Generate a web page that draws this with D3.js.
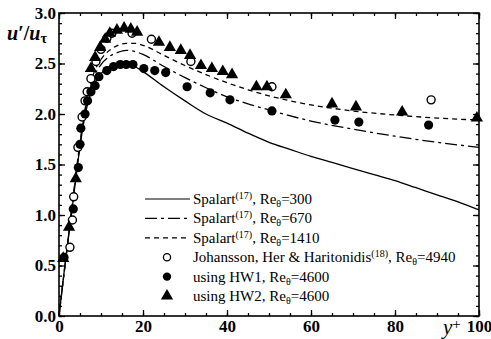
<!DOCTYPE html>
<html>
<head>
<meta charset="utf-8">
<script src="https://cdn.jsdelivr.net/npm/d3@7"></script>
<style>
  body { margin: 0; background: #fff; }
  svg { display: block; font-family: "Liberation Serif", "Times New Roman", "DejaVu Serif", serif; }
</style>
</head>
<body>
<div id="chart"></div>
<script>
// Spalart DNS profiles, [y+, u'/u_tau]
const spalart300 = [[0,0],[1,0.36],[2,0.7],[3,1.02],[4,1.36],[5,1.68],[6,1.94],[7,2.13],[8,2.26],[10,2.4],[12,2.47],[14,2.5],[16,2.5],[18,2.47],[20,2.42],[25,2.27],[30,2.13],[35,2.0],[40,1.91],[45,1.81],[50,1.72],[55,1.65],[60,1.58],[65,1.52],[70,1.46],[75,1.4],[80,1.34],[85,1.27],[90,1.2],[95,1.13],[100,1.05]]
const spalart670 = [[0,0],[2,0.7],[4,1.38],[6,1.98],[8,2.33],[10,2.49],[12,2.57],[14,2.61],[16,2.63],[18,2.62],[20,2.59],[25,2.47],[30,2.36],[35,2.26],[40,2.17],[45,2.1],[50,2.04],[60,1.93],[70,1.85],[80,1.78],[90,1.72],[100,1.67]]
const spalart1410 = [[0,0],[2,0.7],[4,1.4],[6,2.0],[8,2.37],[10,2.54],[12,2.63],[14,2.68],[16,2.7],[18,2.7],[20,2.68],[25,2.58],[30,2.48],[35,2.39],[40,2.31],[45,2.24],[50,2.18],[60,2.09],[70,2.03],[80,1.99],[90,1.96],[100,1.94]]

// measured points
const johansson = [[2.6,0.68],[3.2,0.95],[3.5,1.18],[4.5,1.67],[5.5,1.97],[6.2,2.13],[6.7,2.22],[7.6,2.35],[8.8,2.52],[10,2.64],[11.4,2.75],[12.6,2.8],[17.4,2.8],[22,2.74],[31.4,2.52],[50.7,2.27],[88.6,2.14]]
const hw1 = [[1.2,0.58],[3.4,1.06],[4.6,1.47],[5.0,1.7],[5.2,1.86],[6.2,2.0],[6.8,2.13],[7.6,2.22],[8.6,2.28],[9.5,2.37],[11.4,2.43],[13.0,2.47],[14.6,2.49],[16,2.49],[17.6,2.49],[20.2,2.45],[22.8,2.43],[25.4,2.41],[30.5,2.27],[36,2.21],[40.7,2.14],[50.7,2.03],[65.7,1.94],[71.4,1.92],[88,1.89]]
const hw2 = [[1.0,0.57],[2.4,0.88],[4.0,1.36],[7.6,2.45],[8.6,2.56],[9.8,2.66],[11,2.74],[12.1,2.8],[13.8,2.83],[15.5,2.85],[17.1,2.84],[18.6,2.81],[23.8,2.71],[26.4,2.66],[29,2.63],[31.2,2.58],[33.8,2.48],[36.4,2.45],[39,2.42],[41.2,2.39],[47,2.27],[49.5,2.27],[54,2.19],[65,2.1],[70.7,2.07],[81.7,2.02],[99.5,1.96]]

const xTicks = [0, 20, 40, 60, 80, 100]
const yTicks = [0, 0.5, 1.0, 1.5, 2.0, 2.5, 3.0]
const legendLabels = [
  { name: 'Spalart', ref: '(17)', re: '=300' },
  { name: 'Spalart', ref: '(17)', re: '=670' },
  { name: 'Spalart', ref: '(17)', re: '=1410' },
  { name: 'Johansson, Her & Haritonidis', ref: '(18)', re: '=4940' },
  { name: 'using HW1', ref: '', re: '=4600' },
  { name: 'using HW2', ref: '', re: '=4600' }
]

const W = 491, H = 339
const pLeft = 59, pRight = 479, pTop = 13, pBottom = 316
const serif = '"Liberation Serif", "Times New Roman", serif'

const svg = d3.select('#chart').append('svg')
  .attr('width', W).attr('height', H)
  .attr('font-family', serif)

const x = d3.scaleLinear().domain([0, 100]).range([pLeft, pRight])
const y = d3.scaleLinear().domain([0, 3]).range([pBottom, pTop])

// ticks, all pointing inward
const addAxis = (axis, transform) => {
  const g = svg.append('g').attr('transform', transform).call(axis)
  g.attr('font-family', serif)
  g.select('.domain').remove()
  g.selectAll('line').attr('stroke', '#000').attr('stroke-width', 1.3)
  return g
}

const xMinor = d3.range(0, 101, 5)
const yMinor = d3.range(0, 31).map(d => d / 10)

addAxis(d3.axisBottom(x).tickValues(xMinor).tickSize(-3).tickFormat(''), `translate(0,${pBottom})`)
addAxis(d3.axisTop(x).tickValues(xMinor).tickSize(-3).tickFormat(''), `translate(0,${pTop})`)
addAxis(d3.axisLeft(y).tickValues(yMinor).tickSize(-3).tickFormat(''), `translate(${pLeft},0)`)
addAxis(d3.axisRight(y).tickValues(yMinor).tickSize(-3).tickFormat(''), `translate(${pRight},0)`)

const xb = addAxis(d3.axisBottom(x).tickValues(xTicks).tickSize(-6).tickPadding(3)
  .tickFormat(d => d), `translate(0,${pBottom})`)
addAxis(d3.axisTop(x).tickValues(xTicks).tickSize(-6).tickFormat(''), `translate(0,${pTop})`)
const yl = addAxis(d3.axisLeft(y).tickValues(yTicks).tickSize(-6).tickPadding(3)
  .tickFormat(d3.format('.1f')), `translate(${pLeft},0)`)
addAxis(d3.axisRight(y).tickValues(yTicks).tickSize(-6).tickFormat(''), `translate(${pRight},0)`)

xb.selectAll('text').attr('y', 4).attr('font-size', 17).attr('font-weight', 'bold').attr('fill', '#000')
yl.selectAll('text').attr('x', -3).attr('font-size', 17).attr('font-weight', 'bold').attr('fill', '#000')

// frame
svg.append('rect')
  .attr('x', pLeft).attr('y', pTop)
  .attr('width', pRight - pLeft).attr('height', pBottom - pTop)
  .attr('fill', 'none').attr('stroke', '#000').attr('stroke-width', 1.6)

// axis titles
const yt = svg.append('text').attr('x', 7).attr('y', 40)
  .attr('font-size', 20).attr('font-weight', 'bold').attr('fill', '#000')
yt.append('tspan').attr('font-style', 'italic').text('u')
yt.append('tspan').text('′/')
yt.append('tspan').attr('font-style', 'italic').text('u')
yt.append('tspan').attr('font-size', 14).attr('dy', 3).text('τ')

const xt = svg.append('text').attr('x', 443).attr('y', 334)
  .attr('font-size', 21).attr('fill', '#000')
xt.append('tspan').attr('font-style', 'italic').text('y')
xt.append('tspan').attr('font-size', 15).attr('dy', -5).text('+')

// lines
const line = d3.line()
  .x(d => x(d[0]))
  .y(d => y(d[1]))
  .curve(d3.curveMonotoneX)

const lineStyles = [
  { data: spalart300, dash: null },
  { data: spalart670, dash: '12,4,3,4' },
  { data: spalart1410, dash: '5,4' }
]

lineStyles.forEach(s => {
  svg.append('path')
    .datum(s.data)
    .attr('d', line)
    .attr('fill', 'none')
    .attr('stroke', '#000')
    .attr('stroke-width', 1.3)
    .attr('stroke-dasharray', s.dash)
})

// markers
const triangle = d3.symbol().type(d3.symbolTriangle).size(65)

svg.append('g').selectAll('circle')
  .data(johansson)
  .enter().append('circle')
  .attr('cx', d => x(d[0])).attr('cy', d => y(d[1]))
  .attr('r', 4).attr('fill', '#fff').attr('stroke', '#000').attr('stroke-width', 1.4)

svg.append('g').selectAll('circle')
  .data(hw1)
  .enter().append('circle')
  .attr('cx', d => x(d[0])).attr('cy', d => y(d[1]))
  .attr('r', 4.6).attr('fill', '#000')

svg.append('g').selectAll('path')
  .data(hw2)
  .enter().append('path')
  .attr('d', triangle)
  .attr('transform', d => `translate(${x(d[0])},${y(d[1])})`)
  .attr('fill', '#000')

// legend
const legend = svg.append('g')
const rowY = i => 199 + i * 19.4

lineStyles.forEach((s, i) => {
  legend.append('line')
    .attr('x1', 145).attr('x2', 190)
    .attr('y1', rowY(i)).attr('y2', rowY(i))
    .attr('stroke', '#000').attr('stroke-width', 1.2)
    .attr('stroke-dasharray', s.dash)
})
legend.append('circle').attr('cx', 167).attr('cy', rowY(3)).attr('r', 3.6)
  .attr('fill', '#fff').attr('stroke', '#000').attr('stroke-width', 1.3)
legend.append('circle').attr('cx', 167).attr('cy', rowY(4)).attr('r', 4.2)
  .attr('fill', '#000')
legend.append('path').attr('d', triangle)
  .attr('transform', `translate(167,${rowY(5)})`).attr('fill', '#000')

legendLabels.forEach((l, i) => {
  const t = legend.append('text')
    .attr('x', 193).attr('y', rowY(i) + 5)
    .attr('font-size', 15).attr('fill', '#000')
  t.append('tspan').text(l.name)
  if (l.ref) {
    t.append('tspan').attr('font-size', 10).attr('dy', -5).text(l.ref)
    t.append('tspan').attr('dy', 5).text(', Re')
  } else {
    t.append('tspan').text(', Re')
  }
  t.append('tspan').attr('font-size', 10).attr('dy', 3).text('θ')
  t.append('tspan').attr('dy', -3).text(l.re)
})
</script>
</body>
</html>
